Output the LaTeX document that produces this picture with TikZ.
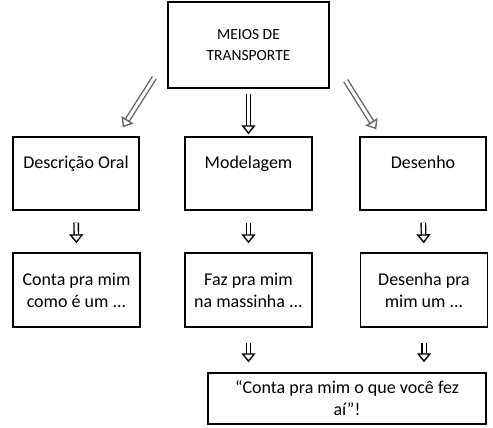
\documentclass[tikz,border=0pt]{standalone}
\usepackage{fontspec}
\setmainfont{Carlito}
\usetikzlibrary{arrows.meta}
\begin{document}
\begin{tikzpicture}[x=1pt,y=-1pt,
    box/.style={draw,line width=1.4pt,align=center,inner sep=2pt,
      font=\fontsize{18}{22}\selectfont},
    hollow/.style={draw=black,line width=1.4pt,double=white,double distance=3pt,
      -{Triangle[fill=white,length=9pt,width=14pt,line width=1.4pt]}},
    grayhollow/.style={hollow,draw=black!60}]
  \useasboundingbox (0,0) rectangle (493,428);
  \node[box,minimum width=161pt,minimum height=86pt,font=\fontsize{15.5}{21}\selectfont]
    (meios) at (248.5,45) {MEIOS DE\\TRANSPORTE};
  \node[box,minimum width=126pt,minimum height=73pt] (oral) at (76,173.5) {Descrição Oral\\~};
  \node[box,minimum width=127pt,minimum height=73pt] (model) at (248.5,173.5) {Modelagem\\~};
  \node[box,minimum width=126pt,minimum height=73pt] (desenho) at (423,173.5) {Desenho\\~};
  \node[box,minimum width=127pt,minimum height=74pt] (conta) at (76.5,290) {Conta pra mim\\como é um ...};
  \node[box,minimum width=127pt,minimum height=74pt] (faz) at (248.5,290) {Faz pra mim\\na massinha ...};
  \node[box,minimum width=127pt,minimum height=74pt] (desenha) at (424,290) {Desenha pra\\mim um ...};
  \node[box,minimum width=278pt,minimum height=51pt] (conte) at (347,398.5)
    {“Conta pra mim o que você fez\\aí”!};
  \draw[grayhollow] ([shift={(-13,-11)}]meios.south west) -- ([shift={(-17,-9)}]oral.north east);
  \draw[hollow,shorten <=5pt,shorten >=2pt] (meios.south) -- (model.north);
  \draw[grayhollow] ([shift={(16,-8)}]meios.south east) -- ([shift={(17,-7)}]desenho.north west);
  \draw[hollow,shorten <=12pt,shorten >=9pt] (oral.south) -- (conta.north);
  \draw[hollow,shorten <=12pt,shorten >=9pt] (model.south) -- (faz.north);
  \draw[hollow,shorten <=12pt,shorten >=9pt] (desenho.south) -- (desenha.north);
  \draw[hollow,shorten <=15pt,shorten >=10pt] (faz.south) -- (faz.south |- conte.north);
  \draw[hollow,shorten <=15pt,shorten >=10pt] (desenha.south) -- (desenha.south |- conte.north);
\end{tikzpicture}
\end{document}
